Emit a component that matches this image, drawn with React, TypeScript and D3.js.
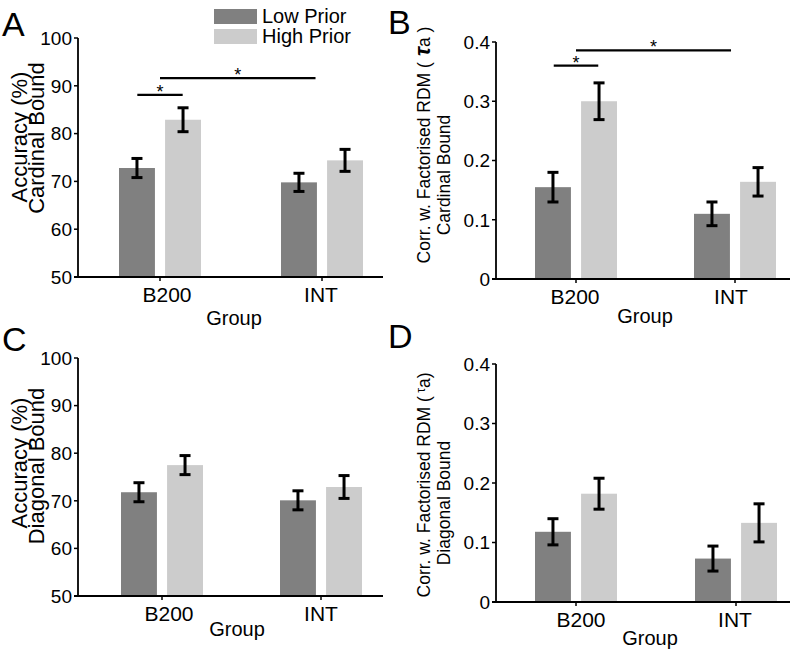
import React, { useEffect } from "react";
import * as d3 from "d3";

const groups = ["B200", "INT"];
const series = ["Low Prior", "High Prior"];
const seriesColors = ["#808080", "#cccccc"];

// A: accuracy, cardinal bound
const accCardinalLow = [72.8, 69.8];
const accCardinalHigh = [82.9, 74.4];
const accCardinalLowErr = [2.0, 1.9];
const accCardinalHighErr = [2.5, 2.3];

// B: corr. with factorised RDM, cardinal bound
const rdmCardinalLow = [0.155, 0.11];
const rdmCardinalHigh = [0.3, 0.164];
const rdmCardinalLowErr = [0.025, 0.02];
const rdmCardinalHighErr = [0.031, 0.024];

// C: accuracy, diagonal bound
const accDiagonalLow = [71.8, 70.1];
const accDiagonalHigh = [77.5, 72.9];
const accDiagonalLowErr = [2.0, 2.0];
const accDiagonalHighErr = [2.0, 2.4];

// D: corr. with factorised RDM, diagonal bound
const rdmDiagonalLow = [0.118, 0.073];
const rdmDiagonalHigh = [0.182, 0.133];
const rdmDiagonalLowErr = [0.022, 0.021];
const rdmDiagonalHighErr = [0.026, 0.032];

const accTicks = [50, 60, 70, 80, 90, 100];
const rdmTicks = [0, 0.1, 0.2, 0.3, 0.4];

// significance bars: ends in group-index units, height in data units
const sigCardinalAcc = [
  { from: -0.14, to: 0.14, y: 88.1 },
  { from: 0, to: 0.96, y: 91.6 },
];
const sigCardinalRdm = [
  { from: -0.14, to: 0.14, y: 0.36 },
  { from: 0, to: 0.975, y: 0.386 },
];

const FONT = "Liberation Sans, Arial, Helvetica, sans-serif";

type Sig = { from: number; to: number; y: number };
type LabelLine = { content: React.ReactNode; x: number; cy: number; size: number };

type PanelProps = {
  letter: string;
  letterX: number;
  letterY: number;
  left: number;
  right: number;
  top: number;
  bottom: number;
  centers: [number, number];
  domain: [number, number];
  ticks: number[];
  low: number[];
  high: number[];
  lowErr: number[];
  highErr: number[];
  labels: LabelLine[];
  sig: Sig[];
  groupY: number;
  groupX: number;
  tickDx: number[];
};

function Panel(p: PanelProps) {
  const y = d3.scaleLinear().domain(p.domain).range([p.bottom, p.top]);
  const x = d3.scaleLinear().domain([0, 1]).range(p.centers);
  const inner = d3.scaleBand().domain(series).range([-41, 41]).paddingInner(0.22);
  const vals = [p.low, p.high];
  const errs = [p.lowErr, p.highErr];

  return (
    <g fontFamily={FONT}>
      <text x={p.letterX} y={p.letterY} fontSize={34}>{p.letter}</text>

      {/* bars */}
      {groups.map((g, gi) =>
        series.map((s, si) => {
          const x0 = x(gi) + (inner(s) as number);
          const v = vals[si][gi];
          const e = errs[si][gi];
          const cx = x0 + inner.bandwidth() / 2;
          return (
            <g key={g + s}>
              <rect x={x0} y={y(v)} width={inner.bandwidth()} height={p.bottom - y(v)} fill={seriesColors[si]} />
              <g stroke="#000" strokeWidth={3}>
                <line x1={cx} x2={cx} y1={y(v - e)} y2={y(v + e)} />
                <line x1={cx - 5.5} x2={cx + 5.5} y1={y(v - e)} y2={y(v - e)} />
                <line x1={cx - 5.5} x2={cx + 5.5} y1={y(v + e)} y2={y(v + e)} />
              </g>
            </g>
          );
        })
      )}

      {/* y axis */}
      <line x1={p.left} x2={p.left} y1={p.top} y2={p.bottom} stroke="#000" strokeWidth={1.8} />
      {p.ticks.map((t) => (
        <g key={t}>
          <line x1={p.left - 4} x2={p.left} y1={y(t)} y2={y(t)} stroke="#000" strokeWidth={1.5} />
          <text x={p.left - 6} y={y(t)} dy="0.36em" textAnchor="end" fontSize={19}>{String(t)}</text>
        </g>
      ))}

      {/* x axis */}
      <line x1={p.left - 4} x2={p.right} y1={p.bottom} y2={p.bottom} stroke="#000" strokeWidth={1.8} />
      {groups.map((g, gi) => (
        <g key={g}>
          <line x1={x(gi)} x2={x(gi)} y1={p.bottom} y2={p.bottom + 4} stroke="#000" strokeWidth={1.5} />
          <text x={x(gi) + p.tickDx[gi]} y={p.bottom + 25} textAnchor="middle" fontSize={21}>{g}</text>
        </g>
      ))}
      <text x={p.groupX} y={p.groupY} textAnchor="middle" fontSize={20}>Group</text>

      {/* y labels */}
      {p.labels.map((l, i) => (
        <text key={i} transform={`translate(${l.x},${l.cy}) rotate(-90)`} textAnchor="middle" fontSize={l.size}>
          {l.content}
        </text>
      ))}

      {/* significance */}
      {p.sig.map((s, i) => {
        const x1 = x(s.from);
        const x2 = x(s.to);
        return (
          <g key={i}>
            <line x1={x1} x2={x2} y1={y(s.y)} y2={y(s.y)} stroke="#000" strokeWidth={2.2} />
            <text x={(x1 + x2) / 2} y={y(s.y) + 3} textAnchor="middle" fontSize={18}>*</text>
          </g>
        );
      })}
    </g>
  );
}

function Legend() {
  return (
    <g fontFamily={FONT}>
      {series.map((s, i) => (
        <g key={s}>
          <rect x={214} y={9 + i * 20} width={43} height={15} fill={seriesColors[i]} />
          <text x={262} y={23 + i * 20} fontSize={20}>{s}</text>
        </g>
      ))}
    </g>
  );
}

export default function App() {
  useEffect(() => {
    document.body.style.margin = "0";
  }, []);

  return (
    <svg width={793} height={650} style={{ display: "block", background: "#fff" }}>
      <Panel
        letter="A" letterX={2} letterY={36}
        left={78} right={383} top={38} bottom={277} centers={[160, 322]}
        domain={[50, 100]} ticks={accTicks}
        low={accCardinalLow} high={accCardinalHigh}
        lowErr={accCardinalLowErr} highErr={accCardinalHighErr}
        labels={[
          { content: "Accuracy (%)", x: 27, cy: 137, size: 22 },
          { content: "Cardinal Bound", x: 44, cy: 138, size: 22 },
        ]}
        sig={sigCardinalAcc}
        groupX={234} groupY={325}
        tickDx={[7, -1]}
      />
      <Panel
        letter="B" letterX={388} letterY={34}
        left={496} right={790} top={42} bottom={279} centers={[576, 735]}
        domain={[0, 0.4]} ticks={rdmTicks}
        low={rdmCardinalLow} high={rdmCardinalHigh}
        lowErr={rdmCardinalLowErr} highErr={rdmCardinalHighErr}
        labels={[
          {
            content: (
              <>
                Corr. w. Factorised RDM (
                <tspan fontWeight="bold" fontStyle="italic" fontSize={22}> τ</tspan>a )
              </>
            ),
            x: 430, cy: 145, size: 17.5,
          },
          { content: "Cardinal Bound", x: 450, cy: 175, size: 17.5 },
        ]}
        sig={sigCardinalRdm}
        groupX={645} groupY={323}
        tickDx={[-1, -4]}
      />
      <Panel
        letter="C" letterX={2} letterY={351}
        left={78} right={383} top={358} bottom={596} centers={[162, 321]}
        domain={[50, 100]} ticks={accTicks}
        low={accDiagonalLow} high={accDiagonalHigh}
        lowErr={accDiagonalLowErr} highErr={accDiagonalHighErr}
        labels={[
          { content: "Accuracy (%)", x: 27, cy: 463, size: 22 },
          { content: "Diagonal Bound", x: 44, cy: 466, size: 22 },
        ]}
        sig={[]}
        groupX={237} groupY={636}
        tickDx={[7, 0]}
      />
      <Panel
        letter="D" letterX={388} letterY={348}
        left={496} right={790} top={364} bottom={602} centers={[576, 736]}
        domain={[0, 0.4]} ticks={rdmTicks}
        low={rdmDiagonalLow} high={rdmDiagonalHigh}
        lowErr={rdmDiagonalLowErr} highErr={rdmDiagonalHighErr}
        labels={[
          {
            content: (
              <>
                Corr. w. Factorised RDM (
                <tspan fontSize={12} dy={-5}> τ</tspan>
                <tspan dy={5}>a)</tspan>
              </>
            ),
            x: 430, cy: 485, size: 17.5,
          },
          { content: "Diagonal Bound", x: 450, cy: 503, size: 17.5 },
        ]}
        sig={[]}
        groupX={650} groupY={645}
        tickDx={[5, -1]}
      />
      <Legend />
    </svg>
  );
}
